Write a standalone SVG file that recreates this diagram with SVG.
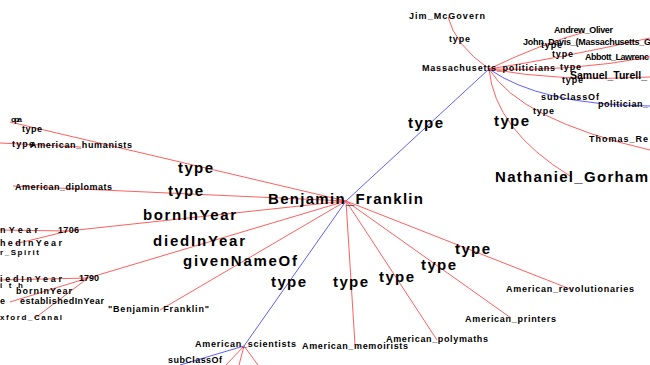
<svg xmlns="http://www.w3.org/2000/svg" width="650" height="365" viewBox="0 0 650 365">
<style>
text{font-family:"Liberation Sans",Arial,sans-serif;font-weight:bold;fill:#000}
.b{font-size:15px}
.s{font-size:9px}
.t{font-size:8px}
.r{stroke:#ff5f5f;stroke-width:1;fill:none}
.u{stroke:#5f5fff;stroke-width:1;fill:none}
</style>
<rect width="650" height="365" fill="#fff"/>
<g id="connectors">
<line class="u" x1="346" y1="201" x2="489" y2="69"/>
<line class="u" x1="346" y1="201" x2="244" y2="346"/>
<line class="r" x1="346" y1="201" x2="10" y2="122"/>
<line class="r" x1="346" y1="201" x2="13" y2="186"/>
<line class="r" x1="346" y1="201" x2="68" y2="231"/>
<line class="r" x1="346" y1="201" x2="88" y2="278"/>
<line class="r" x1="346" y1="201" x2="160" y2="310"/>
<line class="r" x1="346" y1="201" x2="355" y2="345"/>
<line class="r" x1="346" y1="201" x2="437" y2="340"/>
<line class="r" x1="346" y1="201" x2="511" y2="318"/>
<line class="r" x1="346" y1="201" x2="570" y2="289"/>
<path class="r" d="M489,69 Q455,45 448,17"/>
<path class="r" d="M489,69 Q543,43 585,32"/>
<path class="r" d="M489,69 Q560,58 650,38"/>
<path class="r" d="M489,69 Q570,72 650,57"/>
<path class="r" d="M489,69 Q560,82 650,77"/>
<path class="u" d="M489,69 Q540,105 650,106"/>
<path class="r" d="M489,69 Q520,120 650,150"/>
<path class="r" d="M489,69 Q495,130 570,176"/>
<line class="r" x1="0" y1="143" x2="81" y2="147"/>
<line class="r" x1="0" y1="230" x2="68" y2="231"/>
<line class="r" x1="68" y1="231" x2="15" y2="244"/>
<line class="r" x1="88" y1="278" x2="0" y2="280"/>
<line class="r" x1="88" y1="278" x2="10" y2="302"/>
<line class="r" x1="88" y1="278" x2="35" y2="318"/>
<line class="u" x1="244" y1="346" x2="180" y2="365"/>
<line class="r" x1="244" y1="346" x2="226" y2="365"/>
<line class="r" x1="244" y1="346" x2="239" y2="365"/>
<line class="r" x1="244" y1="346" x2="258" y2="365"/>
<g id="edge-labels">
<text class="b" x="408" y="128" textLength="35">type</text>
<text class="b" x="494" y="126" textLength="35">type</text>
<text class="b" x="178" y="173" textLength="35">type</text>
<text class="b" x="168" y="196" textLength="35">type</text>
<text class="b" x="143" y="220" textLength="93">bornInYear</text>
<text class="b" x="153" y="246" textLength="92">diedInYear</text>
<text class="b" x="183" y="266" textLength="114">givenNameOf</text>
<text class="b" x="271" y="287" textLength="35">type</text>
<text class="b" x="333" y="287" textLength="35">type</text>
<text class="b" x="379" y="282" textLength="35">type</text>
<text class="b" x="421" y="270" textLength="35">type</text>
<text class="b" x="455" y="254" textLength="35">type</text>
<text class="s" x="449" y="42" textLength="21">type</text>
<text class="s" x="541" y="48" textLength="21">type</text>
<text class="s" x="552" y="57" textLength="21">type</text>
<text class="s" x="560" y="70" textLength="21">type</text>
<text class="s" x="562" y="83" textLength="21">type</text>
<text class="s" x="541" y="100" textLength="58">subClassOf</text>
<text class="s" x="533" y="114" textLength="21">type</text>
<text class="s" x="22" y="132" textLength="20">type</text>
<text class="s" x="12" y="147" textLength="22">type</text>
<text class="s" x="0" y="233" textLength="38">nYear</text>
<text class="s" x="0" y="246" textLength="62">hedInYear</text>
<text class="s" x="0" y="282" textLength="62">iedInYear</text>
<text class="s" x="16" y="294" textLength="56">bornInYear</text>
<text class="s" x="0" y="304">e</text>
<text class="s" x="20" y="304" textLength="84">establishedInYear</text>
<text class="s" x="168" y="363" textLength="54">subClassOf</text>
</g>
</g>
<g id="Benjamin_Franklin"><text class="b" x="268" y="204" textLength="155">Benjamin_Franklin</text></g>
<g id="Massachusetts_politicians"><text class="s" x="422" y="71" textLength="133">Massachusetts_politicians</text></g>
<g id="Jim_McGovern"><text class="s" x="409" y="19" textLength="76">Jim_McGovern</text></g>
<g id="Andrew_Oliver"><text class="s" x="554" y="33" textLength="59">Andrew_Oliver</text></g>
<g id="John_Davis"><text class="s" x="523" y="45" textLength="128">John_Davis_(Massachusetts_G</text></g>
<g id="Abbott_Lawrence"><text class="s" x="585" y="60" textLength="64">Abbott_Lawrenc</text></g>
<g id="Samuel_Turell"><text style="font-size:10.5px" x="570" y="79" textLength="77">Samuel_Turell_</text></g>
<g id="politician"><text class="s" x="598" y="107" textLength="50">politician_</text></g>
<g id="Thomas_Re"><text class="s" x="589" y="142" textLength="59">Thomas_Re</text></g>
<g id="Nathaniel_Gorham"><text class="b" x="495" y="182" textLength="153">Nathaniel_Gorham</text></g>
<g id="opa"><text class="t" x="11" y="122" textLength="11">opa</text></g>
<g id="American_humanists"><text class="s" x="30" y="148" textLength="102">American_humanists</text></g>
<g id="American_diplomats"><text class="s" x="15" y="190" textLength="97">American_diplomats</text></g>
<g id="n1706"><text class="s" x="58" y="233" textLength="21">1706</text></g>
<g id="r_Spirit"><text class="t" x="0" y="255" textLength="39">r_Spirit</text></g>
<g id="n1790"><text class="s" x="79" y="281" textLength="20">1790</text></g>
<g id="ith"><text class="t" x="0" y="288" textLength="23">ith</text></g>
<g id="xford_Canal"><text class="t" x="0" y="320" textLength="62">xford_Canal</text></g>
<g id="Benjamin_Franklin_literal"><text class="s" x="108" y="312" textLength="101">"Benjamin Franklin"</text></g>
<g id="American_scientists"><text class="s" x="195" y="347" textLength="101">American_scientists</text></g>
<g id="American_memoirists"><text class="s" x="302" y="349" textLength="106">American_memoirists</text></g>
<g id="American_polymaths"><text class="s" x="386" y="342" textLength="102">American_polymaths</text></g>
<g id="American_printers"><text class="s" x="465" y="322" textLength="91">American_printers</text></g>
<g id="American_revolutionaries"><text class="s" x="506" y="292" textLength="128">American_revolutionaries</text></g>
</svg>
